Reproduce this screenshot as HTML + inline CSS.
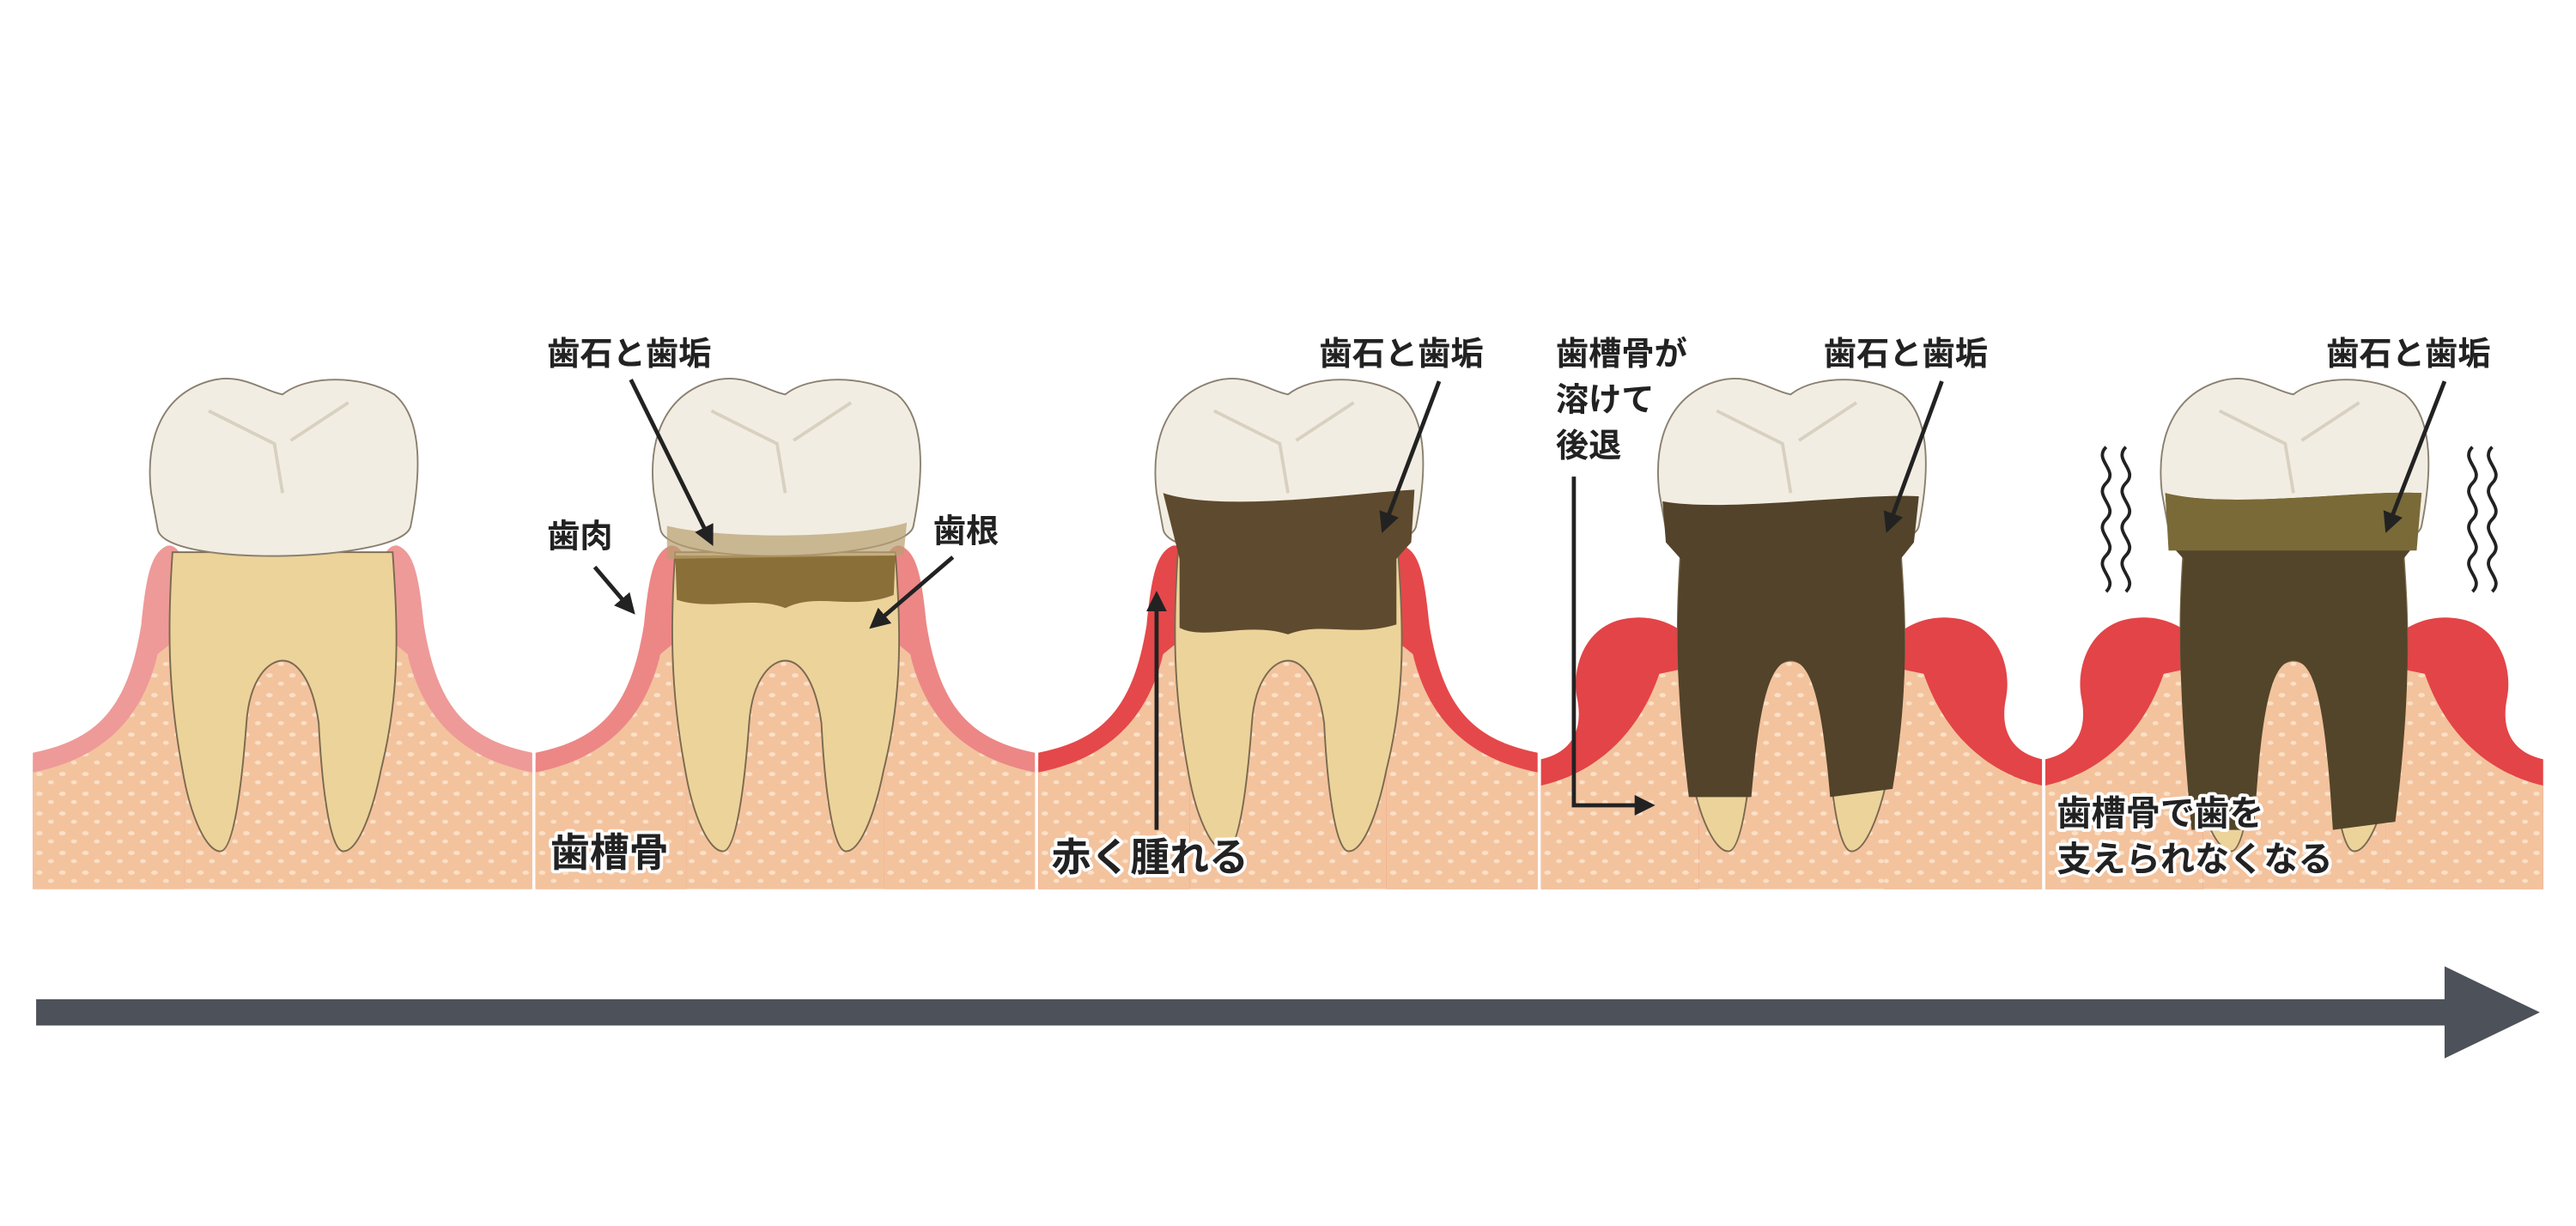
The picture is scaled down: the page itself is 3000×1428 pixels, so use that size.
<!DOCTYPE html>
<html><head><meta charset="utf-8"><style>
html,body{margin:0;padding:0;background:#fff;}
svg{display:block;}
.lb{font-family:"Liberation Sans","Noto Sans CJK JP",sans-serif;font-weight:bold;fill:#222;stroke:#fff;stroke-width:4px;paint-order:stroke;stroke-linejoin:round;}
</style></head><body>
<svg width="3000" height="1428" viewBox="0 0 1568 746" preserveAspectRatio="none" xmlns="http://www.w3.org/2000/svg">
<defs>
  <pattern id="dots" width="14" height="12" patternUnits="userSpaceOnUse">
    <rect width="14" height="12" fill="#f3c39e"/>
    <ellipse cx="4" cy="3" rx="2" ry="1.3" fill="#fbe0c6"/>
    <ellipse cx="11" cy="8" rx="1.8" ry="1.2" fill="#fbe0c6"/>
  </pattern>
  <marker id="ah" viewBox="0 0 10 10" refX="8" refY="5" markerWidth="5" markerHeight="5" orient="auto"><path d="M0,0 L10,5 L0,10 Z" fill="#222"/></marker>
  <g id="crown">
    <path d="M-80,300 C-84,265 -72,240 -45,232 C-25,226 -12,238 0,240 C15,228 48,228 68,240 C86,255 84,290 78,320 C74,342 -72,346 -76,322 Z" fill="#f2ede2" stroke="#8a8070" stroke-width="1"/>
    <path d="M-45,250 L-5,270 L0,300 M40,245 L5,268" stroke="#d8d0c0" stroke-width="2" fill="none"/>
  </g>
  <path id="root" d="M-67,336 L67,336 C70,380 72,420 60,468 C54,498 45,518 37,518 C29,518 24,480 22,440 C18,412 8,402 0,402 C-8,402 -20,412 -22,440 C-25,480 -30,518 -38,518 C-46,518 -56,498 -61,468 C-70,420 -70,380 -67,336 Z" stroke="#7a6a50" stroke-width="1"/>
  <g id="gumN">
    <path d="M0,458 C40,450 58,430 66,380 C69,350 72,336 82,332 C88,331 92,340 92,345 L92,541 L0,541 Z"/>
  </g>
  <path id="boneN" d="M0,470 C40,462 66,440 76,398 L92,385 L92,541 L0,541 Z" fill="url(#dots)"/>
  <path id="gumS" d="M0,462 C18,458 26,445 22,425 C18,405 28,378 55,376 C75,374 90,385 96,395 L96,541 L0,541 Z"/>
  <path id="boneS" d="M0,478 C35,470 60,445 72,410 L96,405 L96,541 L0,541 Z" fill="url(#dots)"/>
  <g id="bgN">
    <rect x="0" y="462" width="304" height="79" fill="url(#dots)"/>
    <use href="#boneN"/>
    <use href="#boneN" transform="translate(304,0) scale(-1,1)"/>
    <path d="M110,541 L118,402 L186,402 L194,541 Z" fill="url(#dots)"/>
  </g>
</defs>

<!-- Panel 1 -->
<g transform="translate(20,0)">
  <rect x="0" y="462" width="304" height="79" fill="url(#dots)"/>
  <g fill="#ee9a98"><use href="#gumN"/><use href="#gumN" transform="translate(304,0) scale(-1,1)"/></g>
  <use href="#boneN"/><use href="#boneN" transform="translate(304,0) scale(-1,1)"/>
  <path d="M110,541 L118,402 L186,402 L194,541 Z" fill="url(#dots)"/>
  <g transform="translate(152,0)"><use href="#root" fill="#ecd39a"/><use href="#crown"/></g>
</g>
<line x1="325" y1="330" x2="325" y2="541" stroke="#fff" stroke-width="2"/>

<!-- Panel 2 -->
<g transform="translate(326,0)">
  <rect x="0" y="462" width="304" height="79" fill="url(#dots)"/>
  <g fill="#ec8786"><use href="#gumN"/><use href="#gumN" transform="translate(304,0) scale(-1,1)"/></g>
  <use href="#boneN"/><use href="#boneN" transform="translate(304,0) scale(-1,1)"/>
  <path d="M110,541 L118,402 L186,402 L194,541 Z" fill="url(#dots)"/>
  <g transform="translate(152,0)"><use href="#root" fill="#ecd39a"/><use href="#crown"/>
    <path d="M-67,338 L67,338 L66,362 C40,372 20,360 0,370 C-20,362 -45,372 -66,365 Z" fill="#8a7038"/>
    <path d="M-72,320 C-40,328 40,328 74,318 L72,338 L-72,340 Z" fill="#b8a070" opacity="0.7"/>
  </g>
</g>
<line x1="631" y1="330" x2="631" y2="541" stroke="#fff" stroke-width="2"/>

<!-- Panel 3 -->
<g transform="translate(632,0)">
  <rect x="0" y="462" width="304" height="79" fill="url(#dots)"/>
  <g fill="#e5484a"><use href="#gumN"/><use href="#gumN" transform="translate(304,0) scale(-1,1)"/></g>
  <use href="#boneN"/><use href="#boneN" transform="translate(304,0) scale(-1,1)"/>
  <path d="M110,541 L118,402 L186,402 L194,541 Z" fill="url(#dots)"/>
  <g transform="translate(152,0)"><use href="#root" fill="#ecd39a"/><use href="#crown"/>
    <path d="M-76,300 C-40,312 40,300 77,298 L75,330 L66,340 L66,380 C40,388 20,378 0,386 C-25,378 -50,390 -66,382 L-66,340 Z" fill="#5e4a2e"/>
  </g>
</g>
<line x1="937" y1="330" x2="937" y2="541" stroke="#fff" stroke-width="2"/>

<!-- Panel 4 -->
<g transform="translate(938,0)">
  <rect x="0" y="462" width="305" height="79" fill="url(#dots)"/>
  <g fill="#e34447"><use href="#gumS"/><use href="#gumS" transform="translate(305,0) scale(-1,1)"/></g>
  <use href="#boneS"/><use href="#boneS" transform="translate(305,0) scale(-1,1)"/>
  <path d="M110,541 L118,402 L186,402 L194,541 Z" fill="url(#dots)"/>
  <g transform="translate(152,0)"><use href="#root" fill="#ecd39a"/><use href="#crown"/>
    <path d="M-78,305 C-40,312 40,300 78,302 L75,330 L67,340 C70,380 72,420 62,480 L24,485 C20,440 15,402 0,402 C-15,402 -20,440 -24,485 L-62,485 C-70,420 -70,380 -67,340 L-76,330 Z" fill="#52432a"/>
  </g>
</g>
<line x1="1244" y1="330" x2="1244" y2="541" stroke="#fff" stroke-width="2"/>

<!-- Panel 5 -->
<g transform="translate(1245,0)">
  <rect x="0" y="462" width="303" height="79" fill="url(#dots)"/>
  <g fill="#e34447"><use href="#gumS"/><use href="#gumS" transform="translate(303,0) scale(-1,1)"/></g>
  <use href="#boneS"/><use href="#boneS" transform="translate(303,0) scale(-1,1)"/>
  <path d="M112,541 L118,402 L186,402 L192,541 Z" fill="url(#dots)"/>
  <g transform="translate(151,0)"><use href="#root" fill="#ecd39a"/><use href="#crown"/>
    <path d="M-78,300 C-40,310 40,298 78,300 L75,330 L67,340 C70,380 72,420 62,500 L24,505 C20,440 15,402 0,402 C-15,402 -20,440 -24,505 L-62,505 C-70,420 -70,380 -67,340 L-76,330 Z" fill="#53452a"/>
    <path d="M-78,300 C-40,310 40,298 78,300 L75,335 L-76,335 Z" fill="#7a6a38"/>
  </g>
  <g fill="none" stroke="#222" stroke-width="2">
    <path d="M37,272 c-8,8 8,14 0,22 c-8,8 8,14 0,22 c-8,8 8,14 0,22 c-8,8 8,14 0,22"/>
    <path d="M49,272 c-8,8 8,14 0,22 c-8,8 8,14 0,22 c-8,8 8,14 0,22 c-8,8 8,14 0,22"/>
    <path d="M260,272 c-8,8 8,14 0,22 c-8,8 8,14 0,22 c-8,8 8,14 0,22 c-8,8 8,14 0,22"/>
    <path d="M272,272 c-8,8 8,14 0,22 c-8,8 8,14 0,22 c-8,8 8,14 0,22 c-8,8 8,14 0,22"/>
  </g>
</g>

<!-- Arrows for labels -->
<g stroke="#222" stroke-width="2.5" fill="none" marker-end="url(#ah)">
  <line x1="384" y1="231" x2="433" y2="330"/>
  <line x1="362" y1="345" x2="385" y2="372"/>
  <line x1="580" y1="339" x2="531" y2="381"/>
  <line x1="704" y1="505" x2="704" y2="362"/>
  <line x1="876" y1="232" x2="842" y2="322"/>
  <polyline points="958,290 958,490 1005,490"/>
  <line x1="1182" y1="232" x2="1149" y2="322"/>
  <line x1="1488" y1="232" x2="1453" y2="322"/>
</g>

<!-- Labels -->
<g class="lb" font-size="20">
  <text x="333" y="222">歯石と歯垢</text>
  <text x="333" y="333">歯肉</text>
  <text x="568" y="330">歯根</text>
  <text x="803" y="222">歯石と歯垢</text>
  <text x="947" y="222">歯槽骨が</text>
  <text x="947" y="250">溶けて</text>
  <text x="947" y="278">後退</text>
  <text x="1110" y="222">歯石と歯垢</text>
  <text x="1416" y="222">歯石と歯垢</text>
</g>
<g class="lb" font-size="24">
  <text x="335" y="527">歯槽骨</text>
  <text x="640" y="530">赤く腫れる</text>
</g>
<g class="lb" font-size="21">
  <text x="1252" y="502">歯槽骨で歯を</text>
  <text x="1252" y="530">支えられなくなる</text>
</g>

<!-- Timeline arrow -->
<rect x="22" y="608" width="1470" height="16" fill="#4d5159"/>
<polygon points="1488,588 1546,616 1488,644" fill="#4d5159"/>
</svg>
</body></html>
